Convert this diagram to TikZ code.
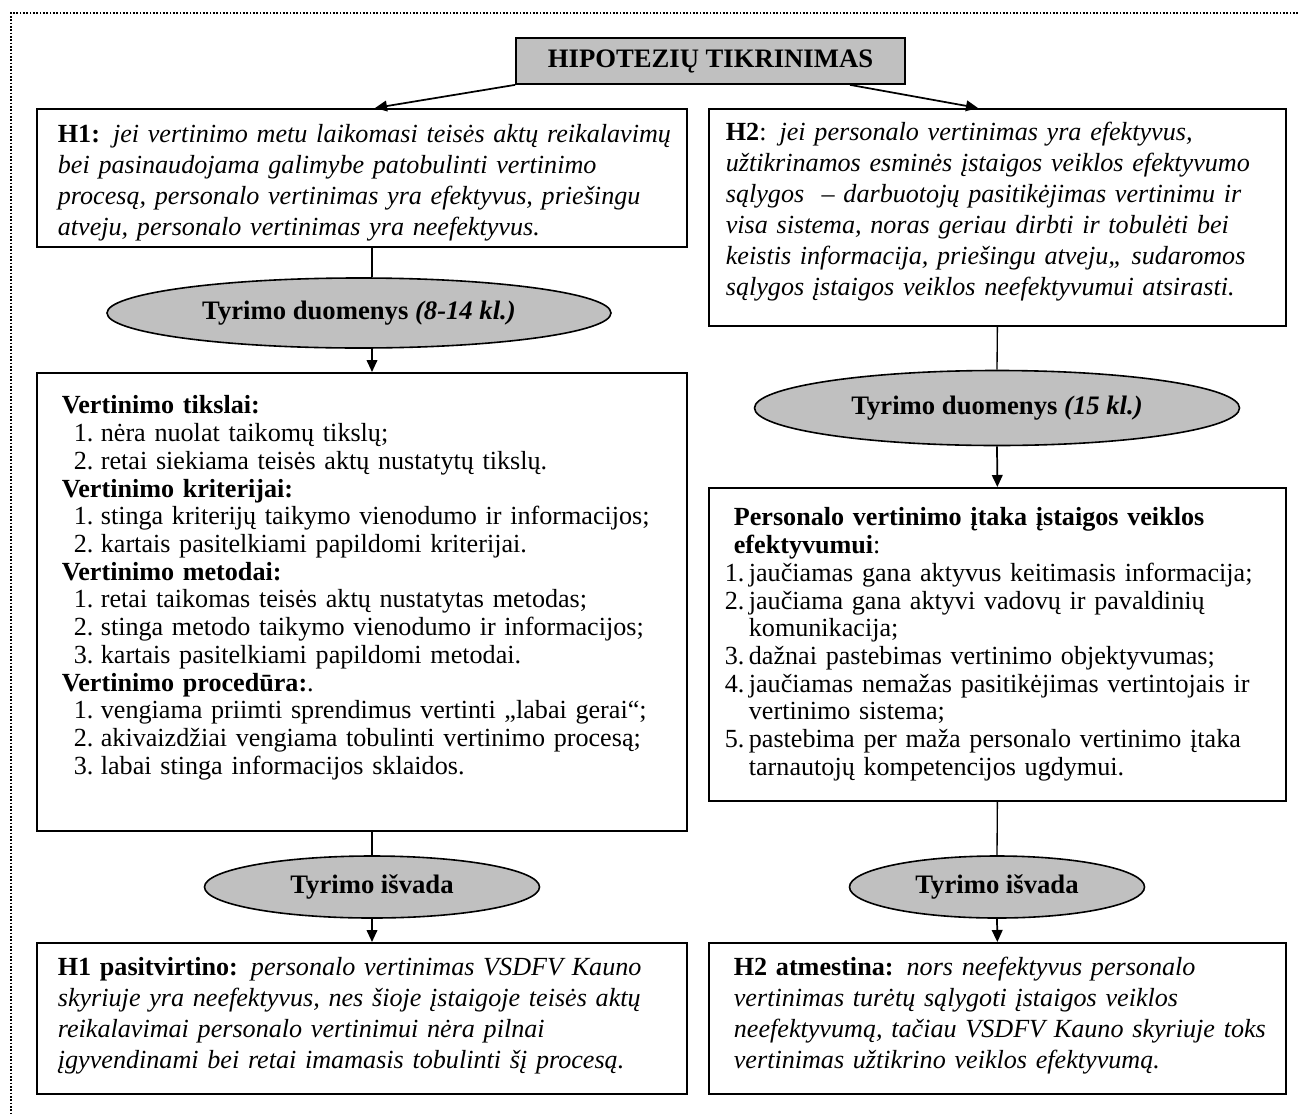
\documentclass[tikz,border=0pt]{standalone}
\usepackage{fontspec}
\setmainfont{Liberation Serif}
\usetikzlibrary{shapes.geometric,arrows.meta}
\definecolor{boxgray}{HTML}{C0C0C0}
% numbered list items: left list (wide number column) and right list (hanging numbers)
\newcommand{\vitem}[1]{\hspace*{9pt}\makebox[20.25pt][l]{#1}}
\newcommand{\pitem}[1]{\hspace*{-6.75pt}\makebox[18pt][l]{#1}}
\newcommand{\pcont}{\hspace*{11.25pt}}
% extra room above (tall strut on the first line) / below the text of a box
\newcommand{\toproom}[1]{\rule{0pt}{#1}}
\newcommand{\bottomroom}[1]{\par\nointerlineskip\vbox to #1{\vfil}}
\begin{document}
\begin{tikzpicture}[x=0.75pt,y=-0.75pt,
  every node/.style={font=\fontsize{19.6pt}{23.25pt}\selectfont},
  dotframe/.style={line width=1.2pt, dash pattern=on 1.2pt off 1.3pt},
  textbox/.style={draw, line width=1.3pt, anchor=north west, align=left,
    inner xsep=0pt, inner ysep=0pt},
  listbox/.style={textbox, font=\fontsize{19.6pt}{20.8pt}\selectfont},
  oval/.style={ellipse, draw, line width=1.2pt, fill=boxgray, inner sep=0pt,
    font=\fontsize{20pt}{23.25pt}\selectfont\bfseries},
  link/.style={line width=1pt},
  arr/.style={line width=1.3pt, -{Triangle[length=9pt,width=8pt]}},
]
\useasboundingbox (0,0) rectangle (1298,1113);

% dotted page frame
\draw[dotframe] (1298,13) -- (11,13) -- (11,1113);

% heading
\node[draw, line width=1.3pt, fill=boxgray, minimum width=291.75pt,
  minimum height=34.5pt, inner sep=0pt,
  font=\fontsize{20pt}{23.25pt}\selectfont\bfseries] (title) at (710.5,61)
  {HIPOTEZIŲ TIKRINIMAS};

% hypotheses
\node[textbox, text width=487.5pt, minimum height=103.5pt] (h1) at (36,108)
  {\leftskip=15.75pt \toproom{21pt}\textbf{H1:} {\itshape jei vertinimo metu laikomasi teisės aktų reikalavimų\\
   bei pasinaudojama galimybe patobulinti vertinimo\\
   procesą, personalo vertinimas yra efektyvus, priešingu\\
   atveju, personalo vertinimas yra neefektyvus.}\par};

\node[textbox, text width=432.75pt, minimum height=162.75pt] (h2) at (708,108)
  {\leftskip=12.75pt \textbf{H2}: {\itshape jei personalo vertinimas yra efektyvus,\\
   užtikrinamos esminės įstaigos veiklos efektyvumo\\
   sąlygos\ \ – darbuotojų pasitikėjimas vertinimu ir\\
   visa sistema, noras geriau dirbti ir tobulėti bei\\
   keistis informacija, priešingu atveju,, sudaromos\\
   sąlygos įstaigos veiklos neefektyvumui atsirasti.}\bottomroom{8pt}};

% research data
\node[oval, minimum width=378pt, minimum height=52.5pt] (e1) at (359,313)
  {Tyrimo duomenys \textit{(8-14 kl.)}};
\node[oval, minimum width=363.75pt, minimum height=56.25pt] (e3) at (997,408)
  {Tyrimo duomenys \textit{(15 kl.)}};

\node[listbox, text width=487.5pt, minimum height=343.5pt] (vert) at (36,372)
  {\leftskip=18.75pt \textbf{Vertinimo tikslai:}\\
   \vitem{1.}nėra nuolat taikomų tikslų;\\
   \vitem{2.}retai siekiama teisės aktų nustatytų tikslų.\\
   \textbf{Vertinimo kriterijai:}\\
   \vitem{1.}stinga kriterijų taikymo vienodumo ir informacijos;\\
   \vitem{2.}kartais pasitelkiami papildomi kriterijai.\\
   \textbf{Vertinimo metodai:}\\
   \vitem{1.}retai taikomas teisės aktų nustatytas metodas;\\
   \vitem{2.}stinga metodo taikymo vienodumo ir informacijos;\\
   \vitem{3.}kartais pasitelkiami papildomi metodai.\\
   \textbf{Vertinimo procedūra:}.\\
   \vitem{1.}vengiama priimti sprendimus vertinti „labai gerai“;\\
   \vitem{2.}akivaizdžiai vengiama tobulinti vertinimo procesą;\\
   \vitem{3.}labai stinga informacijos sklaidos.\bottomroom{21pt}};

\node[listbox, text width=432.75pt, minimum height=234.75pt] (pers) at (708,487)
  {\leftskip=18.75pt \textbf{Personalo vertinimo įtaka įstaigos veiklos}\\
   \textbf{efektyvumui}:\\
   \pitem{1.}jaučiamas gana aktyvus keitimasis informacija;\\
   \pitem{2.}jaučiama gana aktyvi vadovų ir pavaldinių\\
   \pcont komunikacija;\\
   \pitem{3.}dažnai pastebimas vertinimo objektyvumas;\\
   \pitem{4.}jaučiamas nemažas pasitikėjimas vertintojais ir\\
   \pcont vertinimo sistema;\\
   \pitem{5.}pastebima per maža personalo vertinimo įtaka\\
   \pcont tarnautojų kompetencijos ugdymui.\par};

% conclusions
\node[oval, minimum width=251.25pt, minimum height=46.5pt] (e2) at (372,887)
  {Tyrimo išvada};
\node[oval, minimum width=221.25pt, minimum height=46.5pt] (e4) at (997,887)
  {Tyrimo išvada};

\node[textbox, text width=487.5pt, minimum height=113.25pt] (c1) at (36,942)
  {\leftskip=15.75pt \textbf{H1 pasitvirtino:} {\itshape personalo vertinimas VSDFV Kauno\\
   skyriuje yra neefektyvus, nes šioje įstaigoje teisės aktų\\
   reikalavimai personalo vertinimui nėra pilnai\\
   įgyvendinami bei retai imamasis tobulinti šį procesą.}\bottomroom{4pt}};

\node[textbox, text width=432.75pt, minimum height=113.25pt] (c2) at (708,942)
  {\leftskip=18.75pt \textbf{H2 atmestina:} {\itshape nors neefektyvus personalo\\
   vertinimas turėtų sąlygoti įstaigos veiklos\\
   neefektyvumą, tačiau VSDFV Kauno skyriuje toks\\
   vertinimas užtikrino veiklos efektyvumą.}\bottomroom{4pt}};

% connectors
\coordinate (lx) at (372,0);
\coordinate (t1) at (375,0);
\coordinate (s2) at (850,0);
\coordinate (t2) at (978,0);

\draw[arr] (title.south west) -- (h1.north -| t1);
\draw[arr] (title.south -| s2) -- (h2.north -| t2);

\draw[link] (h1.south -| lx) -- (e1.north -| lx);
\draw[arr] (e1.south -| lx) -- (vert.north -| lx);
\draw[link] (vert.south -| lx) -- (e2.north);
\draw[arr] (e2.south) -- (c1.north -| lx);

\draw[link] (h2.south) -- (e3.north);
\draw[arr] (e3.south) -- (pers.north);
\draw[link] (pers.south) -- (e4.north);
\draw[arr] (e4.south) -- (c2.north);
\end{tikzpicture}
\end{document}
